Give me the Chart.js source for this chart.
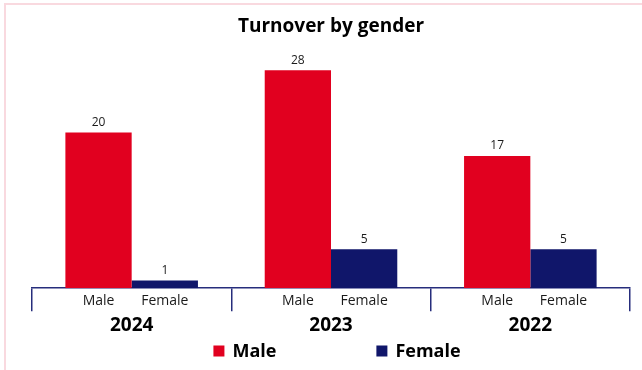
<!DOCTYPE html>
<html>
<head>
<meta charset="utf-8">
<title>Turnover by gender</title>
<script src="https://cdn.jsdelivr.net/npm/chart.js@4.4.1/dist/chart.umd.min.js"></script>
<style>
	body { margin: 0; background: #fff; }
	.frame { position: relative; width: 642px; height: 370px; overflow: hidden; }
	/* thin pink edge along the top and left of the panel */
	.edge { position: absolute; left: 4px; top: 3px; width: 700px; height: 400px; border-left: 2px solid #f9d9df; border-top: 2px solid #f9d9df; pointer-events: none; }
</style>
</head>
<body>
<div class="frame">
	<canvas id="myChart"></canvas>
	<div class="edge"></div>
</div>
<script>
const years = ['2024', '2023', '2022'];
const genders = ['Male', 'Female'];
const maleTurnover = [20, 28, 17];
const femaleTurnover = [1, 5, 5];

const red = '#e1001f';
const navy = '#10166a';
const axisColor = '#262d7c';
const fontFamily = "'Open Sans', sans-serif";

Chart.defaults.font.family = fontFamily;

// value above each bar + gender name under it
const barLabels = {
	id: 'barLabels',
	afterDatasetsDraw(chart) {
		const ctx = chart.ctx;
		const bottom = chart.chartArea.bottom;
		ctx.save();
		ctx.textAlign = 'center';
		ctx.textBaseline = 'middle';
		ctx.fillStyle = '#1a1a1a';
		chart.data.datasets.forEach((ds, i) => {
			const meta = chart.getDatasetMeta(i);
			meta.data.forEach((bar, j) => {
				ctx.font = '12px ' + fontFamily;
				ctx.fillText(ds.data[j], bar.x, bar.y - 10);
				ctx.font = '14px ' + fontFamily;
				ctx.fillText(ds.label, bar.x, bottom + 13);
			});
		});
		ctx.restore();
	}
};

// legend drawn by hand so the gap between the two items can be wide
const wideLegend = {
	id: 'wideLegend',
	afterDraw(chart) {
		const ctx = chart.ctx;
		const box = 11;
		const gap = 100;
		const y = 351;
		ctx.save();
		ctx.font = 'bold 18px ' + fontFamily;
		ctx.textBaseline = 'middle';
		const items = chart.data.datasets.map(ds => ({
			label: ds.label,
			color: ds.backgroundColor,
			w: box + 8 + ctx.measureText(ds.label).width
		}));
		const total = items.reduce((s, it) => s + it.w, 0) + gap * (items.length - 1);
		let x = (chart.chartArea.left + chart.chartArea.right) / 2 + 6 - total / 2;
		items.forEach(it => {
			ctx.fillStyle = it.color;
			ctx.fillRect(x, y - box / 2, box, box);
			ctx.fillStyle = '#000';
			ctx.fillText(it.label, x + box + 8, y + 1);
			x += it.w + gap;
		});
		ctx.restore();
	}
};

function charts() {
	const ctx = document.getElementById('myChart');

	new Chart(ctx, {
		type: 'bar',
		data: {
			labels: years,
			datasets: [{
				label: genders[0],
				data: maleTurnover,
				backgroundColor: red,
			}, {
				label: genders[1],
				data: femaleTurnover,
				backgroundColor: navy,
			}]
		},
		options: {
			responsive: true,
			maintainAspectRatio: false,
			animation: false,
			categoryPercentage: 0.665,
			barPercentage: 1,
			layout: {
				padding: { left: 32, right: 12, top: 0, bottom: 30 }
			},
			plugins: {
				legend: { display: false },
				tooltip: { enabled: false },
				title: {
					display: true,
					text: 'Turnover by gender',
					color: '#000',
					font: { size: 19, weight: 'bold' },
					padding: { top: 15, bottom: 17 }
				}
			},
			scales: {
				y: {
					display: false,
					min: 0,
					max: 30
				},
				x: {
					grid: {
						offset: true,
						drawOnChartArea: false,
						tickLength: 23,
						color: axisColor,
						lineWidth: 1.5
					},
					border: {
						color: axisColor,
						width: 1.5
					},
					ticks: {
						color: '#000',
						padding: 3,
						font: { size: 19, weight: 'bold' }
					}
				}
			}
		},
		plugins: [barLabels, wideLegend]
	});
}

charts();
</script>
</body>
</html>
